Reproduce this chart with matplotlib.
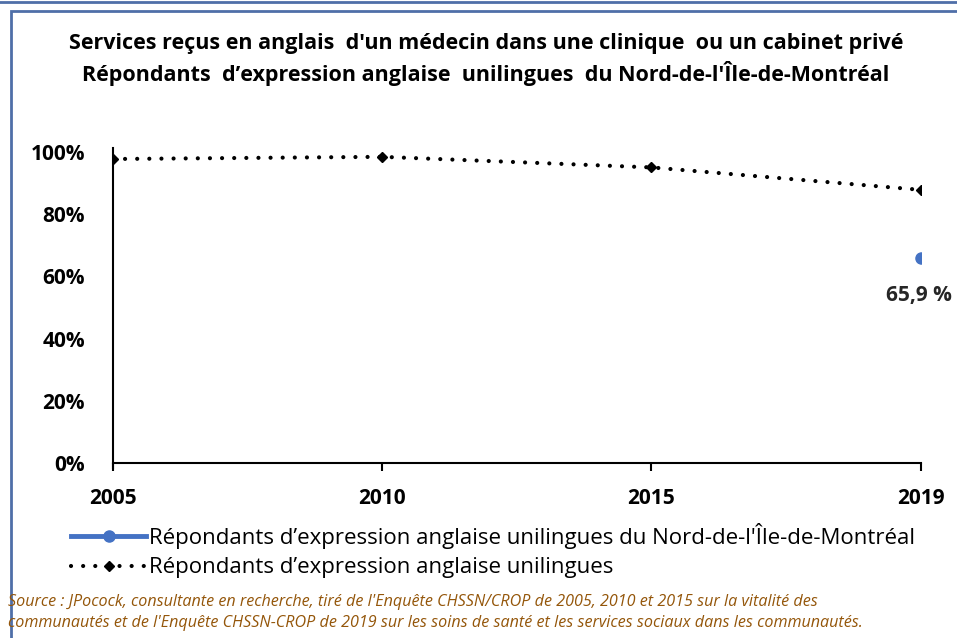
import numpy as np
import matplotlib.pyplot as plt
from matplotlib.lines import Line2D
from matplotlib.patches import Rectangle

# data
years = ["2005", "2010", "2015", "2019"]
unilingual = [0.977, 0.984, 0.950, 0.878]
north_island = [np.nan, np.nan, np.nan, 0.659]
north_label = "65,9 %"
y_ticks = [0, 0.2, 0.4, 0.6, 0.8, 1.0]
y_ticklabels = ["0%", "20%", "40%", "60%", "80%", "100%"]

title = ("Services reçus en anglais  d'un médecin dans une clinique  ou un cabinet privé\n"
         "Répondants  d’expression anglaise  unilingues  du Nord-de-l'Île-de-Montréal")
label_north = "Répondants d’expression anglaise unilingues du Nord-de-l'Île-de-Montréal"
label_all = "Répondants d’expression anglaise unilingues"
source = ("Source : JPocock, consultante en recherche, tiré de l'Enquête CHSSN/CROP de 2005, 2010 et 2015 sur la vitalité des\n"
          "communautés et de l'Enquête CHSSN-CROP de 2019 sur les soins de santé et les services sociaux dans les communautés.")

plt.rcParams['font.family'] = ['Open Sans', 'DejaVu Sans']

fig = plt.figure(figsize=(9.57, 6.38), dpi=100)
ax = fig.add_axes([0.118, 0.274, 0.844, 0.488])

x = np.arange(len(years))
ax.plot(x, unilingual, color="black", lw=3, linestyle=(0, (0.01, 2.9)),
        dash_capstyle="round", marker="D", markersize=5, label=label_all)
ax.plot(x, north_island, color="#4472C4", lw=3.5, marker="o", markersize=8,
        label=label_north)
ax.annotate(north_label, (x[-1], north_island[-1]), xytext=(-1, -27),
            textcoords="offset points", ha="center", va="center",
            fontsize=15, fontweight="bold", color="#262626")

ax.set_xlim(0, 3)
ax.set_ylim(0, 1.0)
ax.set_xticks(x)
ax.set_xticklabels(years, fontsize=15, fontweight="bold")
ax.set_yticks(y_ticks)
ax.set_yticklabels(y_ticklabels, fontsize=15, fontweight="bold")
ax.tick_params(axis="y", length=0, pad=20)
ax.tick_params(axis="x", length=6, width=1.5, direction="out", pad=12)
for s in ["top", "right"]:
    ax.spines[s].set_visible(False)
for s in ["left", "bottom"]:
    ax.spines[s].set_linewidth(1.5)
ax.spines["left"].set_bounds(-0.015, 1.012)

fig.text(0.508, 0.907, title, ha="center", va="center", fontsize=15.5,
         fontweight="bold", linespacing=1.35)

h1 = Line2D([], [], color="#4472C4", lw=3.5, marker="o", markersize=8)
h2 = Line2D([], [], color="black", lw=3, linestyle=(0, (0.01, 2.9)),
            dash_capstyle="round", marker="D", markersize=5)
fig.legend([h1, h2], [label_north, label_all], loc="upper left",
           bbox_to_anchor=(0.074, 0.181), frameon=False, fontsize=16,
           handlelength=3.4, handletextpad=0.1, labelspacing=0.4,
           borderaxespad=0, borderpad=0)

fig.text(0.008, 0.04, source, ha="left", va="center", fontsize=11.6,
         style="italic", color="#94560a", linespacing=1.4)

# blue frame
fig.add_artist(Line2D([0, 1], [0.997, 0.997], color="#4f6fa8", lw=2))
fig.add_artist(Rectangle((0.011, -0.1), 1.1, 1.083, fill=False,
                         edgecolor="#4f6fa8", lw=2))

fig.savefig("out.png", dpi=100)
